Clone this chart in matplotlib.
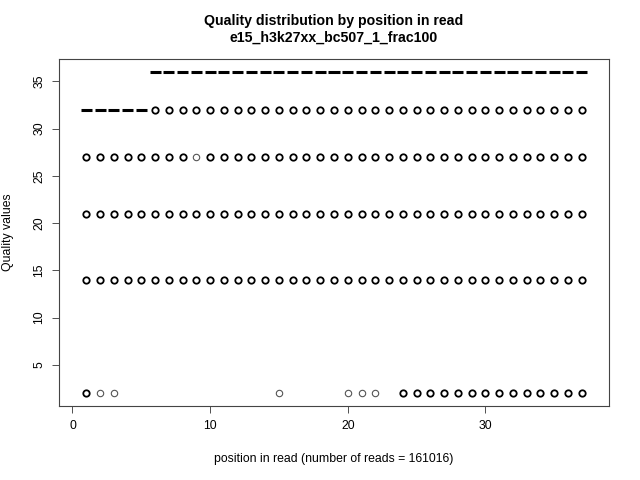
import numpy as np
import matplotlib.pyplot as plt

plt.rcParams['font.family'] = ['Liberation Sans', 'DejaVu Sans']

# boxplot per read position: all quartiles coincide, so box collapses to median
positions = list(range(1, 38))
medians = [32] * 5 + [36] * 32

# outliers: quality value -> positions where it shows
out_levels = [32, 27, 21, 14, 2]
out_positions = [
    list(range(6, 38)),
    list(range(1, 38)),
    list(range(1, 38)),
    list(range(1, 38)),
    [1, 2, 3, 15, 20, 21, 22] + list(range(24, 38)),
]
# outliers that are rare (single read) -> drawn lighter
rare = [(27, 9), (2, 2), (2, 3), (2, 15), (2, 20), (2, 21), (2, 22)]

n_reads = 161016
sample = "e15_h3k27xx_bc507_1_frac100"

fig = plt.figure(figsize=(6.4, 4.8), dpi=100)
ax = fig.add_axes([59 / 640, 1 - 406 / 480, 550 / 640, 347 / 480])

pos = np.array(positions)
med = np.array(medians)
ax.hlines(med, pos - 0.4, pos + 0.4, colors='black', linewidth=2.2)

for lev, ps in zip(out_levels, out_positions):
    strong = [p for p in ps if (lev, p) not in rare]
    weak = [p for p in ps if (lev, p) in rare]
    ax.plot(strong, [lev] * len(strong), 'o', mfc='none', mec='black',
            ms=4.6, mew=1.3)
    ax.plot(weak, [lev] * len(weak), 'o', mfc='none', mec='#555555',
            ms=4.6, mew=0.8)

ax.set_xlim(-0.98, 38.98)
ax.set_ylim(0.64, 37.36)
ax.set_xticks([0, 10, 20, 30])
ax.set_yticks([5, 10, 15, 20, 25, 30, 35])
ax.tick_params(length=5, width=0.6, labelsize=8.8, pad=5, color='#333333')
for lab in ax.get_yticklabels():
    lab.set_rotation(90)
    lab.set_va('center')
for s in ax.spines.values():
    s.set_linewidth(0.8)
    s.set_color('#444444')

ax.set_xlabel(f"position in read (number of reads = {n_reads})",
              fontsize=8.8, labelpad=15)
ax.set_ylabel("Quality values", fontsize=8.8, labelpad=14)
fig.text(334 / 640, 1 - 29 / 480,
         "Quality distribution by position in read\n" + sample,
         ha='center', va='center', fontsize=10.2, fontweight='bold',
         linespacing=1.25)

fig.savefig("out.png", dpi=100)
